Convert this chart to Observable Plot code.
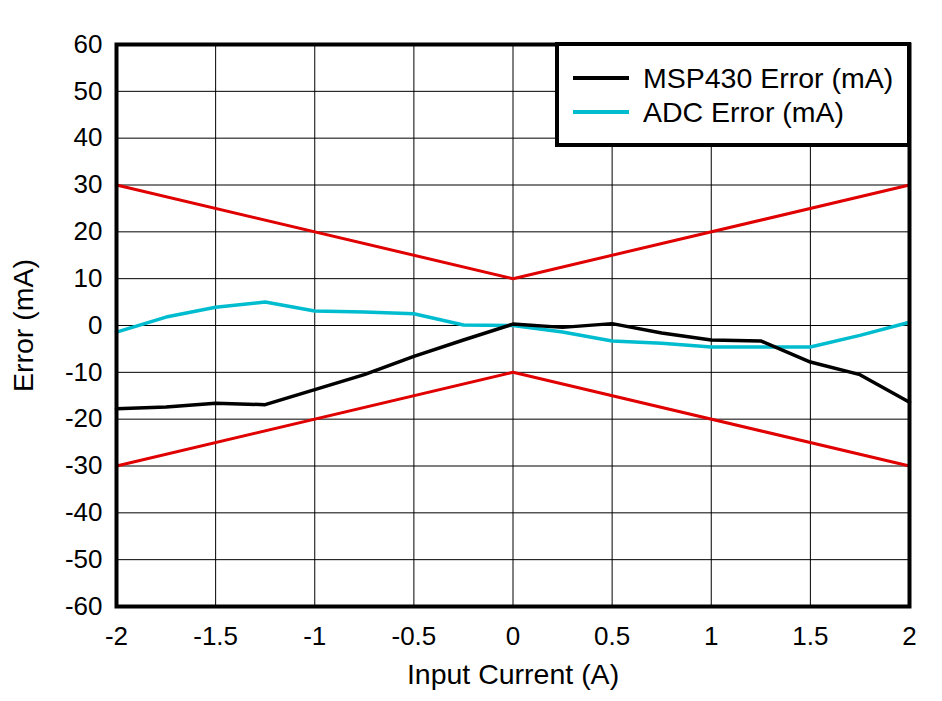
<!DOCTYPE html>
<html>
<head>
<meta charset="utf-8">
<script src="https://cdn.jsdelivr.net/npm/d3@7"></script>
<script src="https://cdn.jsdelivr.net/npm/@observablehq/plot@0.6"></script>
<style>
  body { margin: 0; background: #fff; }
  #wrap { position: relative; width: 942px; height: 701px; font-family: Arial, "Liberation Sans", sans-serif; }
  #legend { position: absolute; left: 555px; top: 42px; width: 348px; height: 97px; border: 4px solid #000; background: #fff; box-sizing: content-box; }
  .row { position: absolute; left: 14px; display: flex; align-items: center; font-size: 28.5px; line-height: 32px; color: #000; }
  .sw { width: 56px; height: 4px; margin-right: 14px; }
</style>
</head>
<body>
<div id="wrap"></div>
<script>
const current = [-2, -1.75, -1.5, -1.25, -1, -0.75, -0.5, -0.25, 0, 0.25, 0.5, 0.75, 1, 1.25, 1.5, 1.75, 2];
const msp430Error = [-17.8, -17.4, -16.6, -16.9, -13.7, -10.5, -6.6, -3.1, 0.3, -0.4, 0.4, -1.6, -3.1, -3.3, -7.8, -10.5, -16.4];
const adcError = [-1.4, 1.8, 3.9, 5.0, 3.1, 2.9, 2.5, 0.1, 0, -1.4, -3.3, -3.8, -4.6, -4.6, -4.6, -2.1, 0.7];
const limitX = [-2, 0, 2];
const upperLimit = [30, 10, 30];
const lowerLimit = [-30, -10, -30];
const xTicks = [-2, -1.5, -1, -0.5, 0, 0.5, 1, 1.5, 2];
const yTicks = [-60, -50, -40, -30, -20, -10, 0, 10, 20, 30, 40, 50, 60];
const seriesNames = ["MSP430 Error (mA)", "ADC Error (mA)"];
const seriesColors = ["#000000", "#00bccf"];
const limitColor = "#e00000";

const msp = current.map((x, i) => ({x, y: msp430Error[i]}));
const adc = current.map((x, i) => ({x, y: adcError[i]}));
const up = limitX.map((x, i) => ({x, y: upperLimit[i]}));
const lo = limitX.map((x, i) => ({x, y: lowerLimit[i]}));

const chart = Plot.plot({
  width: 942,
  height: 701,
  marginLeft: 116,
  marginRight: 33,
  marginTop: 44,
  marginBottom: 95,
  style: {fontFamily: "Arial, 'Liberation Sans', sans-serif", background: "#fff", color: "#000"},
  x: {domain: [-2, 2]},
  y: {domain: [-60, 60]},
  marks: [
    Plot.gridX(xTicks, {stroke: "#000", strokeOpacity: 1, strokeWidth: 1}),
    Plot.gridY(yTicks, {stroke: "#000", strokeOpacity: 1, strokeWidth: 1}),
    Plot.axisX(xTicks, {tickSize: 0, tickPadding: 20, fontSize: 26, tickFormat: d => String(d), label: "Input Current (A)", labelAnchor: "center", labelArrow: "none", labelOffset: 77}),
    Plot.axisY(yTicks, {tickSize: 0, tickPadding: 14, fontSize: 26, tickFormat: d => String(d), label: "Error (mA)", labelAnchor: "center", labelArrow: "none", labelOffset: 104}),
    Plot.line(up, {x: "x", y: "y", stroke: limitColor, strokeWidth: 3}),
    Plot.line(lo, {x: "x", y: "y", stroke: limitColor, strokeWidth: 3}),
    Plot.line(adc, {x: "x", y: "y", stroke: seriesColors[1], strokeWidth: 3.5}),
    Plot.line(msp, {x: "x", y: "y", stroke: seriesColors[0], strokeWidth: 3.5}),
    Plot.frame({stroke: "#000", strokeWidth: 4})
  ]
});
d3.select(chart).selectAll("[aria-label='x-axis label'] text, [aria-label='y-axis label'] text, [aria-label='x-axis label'], [aria-label='y-axis label']").attr("font-size", 28.5);
const wrap = document.getElementById("wrap");
wrap.appendChild(chart);
const leg = document.createElement("div");
leg.id = "legend";
seriesNames.forEach((n, i) => {
  const r = document.createElement("div");
  r.className = "row";
  r.style.top = (i === 0 ? 16 : 50) + "px";
  r.innerHTML = `<div class="sw" style="background:${seriesColors[i]}"></div><span>${n}</span>`;
  leg.appendChild(r);
});
wrap.appendChild(leg);
</script>
</body>
</html>
